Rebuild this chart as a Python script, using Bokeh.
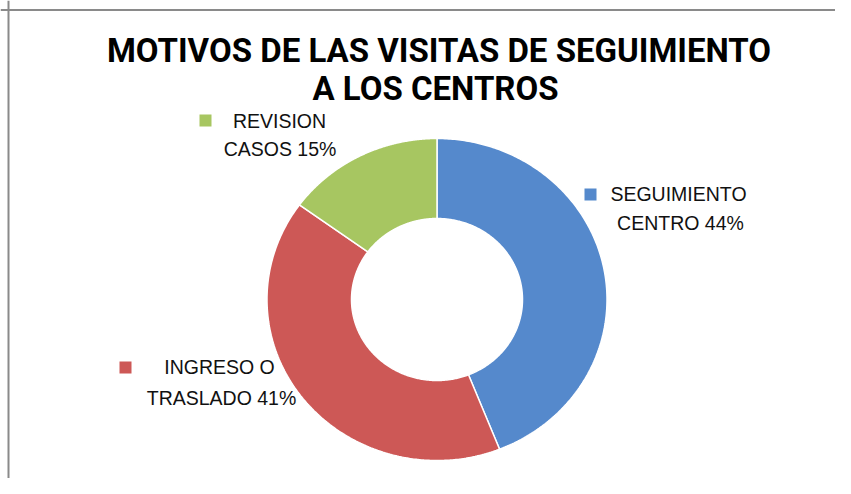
import numpy as np
from bokeh.plotting import figure
from bokeh.models import Range1d, Span, Label, ColumnDataSource
from bokeh.embed import file_html
from bokeh.resources import INLINE

# ---------------- data ----------------
title_lines = ["MOTIVOS DE LAS VISITAS DE SEGUIMIENTO", "A LOS CENTROS"]
categories = ["SEGUIMIENTO CENTRO", "INGRESO O TRASLADO", "REVISION CASOS"]
percentages = [44, 41, 15]
label_first = ["SEGUIMIENTO", "INGRESO O", "REVISION"]
label_second = ["CENTRO", "TRASLADO", "CASOS"]
colors = ["#5589CC", "#CD5856", "#A7C661"]

# ---------------- layout (screenshot pixel coordinates) ----------------
W, H = 835, 478
cx, cy = 436.5, 299.0
rx_out, ry_out = 170.0, 161.0
rx_in, ry_in = 85.5, 81.0
# label placement per slice: (x line1, y line1, x line2, y line2, key x, key y)
label_pos = [
    (678, 193, 680, 222, 590, 194),
    (219, 366, 221, 397, 125, 367),
    (279, 120, 279.5, 148, 205, 120),
]
LABEL_FONT = "'Liberation Sans', Arial, sans-serif"
TITLE_FONT = "Roboto, 'Liberation Sans', sans-serif"

p = figure(width=W, height=H, x_range=Range1d(0, W), y_range=Range1d(H, 0),
           output_backend="svg", toolbar_location=None, min_border=0)
p.axis.visible = False
p.grid.visible = False
p.outline_line_color = None
p.background_fill_color = "white"
p.border_fill_color = "white"

# donut slices (clockwise from 12 o'clock)
total = float(sum(percentages))
fracs = np.array(percentages) / total
ends = np.cumsum(fracs)
starts = ends - fracs
xs, ys = [], []
for s, e in zip(starts, ends):
    t = np.linspace(np.pi / 2 - 2 * np.pi * s, np.pi / 2 - 2 * np.pi * e, 240)
    ox = cx + rx_out * np.cos(t)
    oy = cy - ry_out * np.sin(t)
    ix = cx + rx_in * np.cos(t[::-1])
    iy = cy - ry_in * np.sin(t[::-1])
    xs.append(list(np.concatenate([ox, ix])))
    ys.append(list(np.concatenate([oy, iy])))

src = ColumnDataSource(dict(xs=xs, ys=ys, color=colors, cat=categories))
p.patches("xs", "ys", source=src, fill_color="color", line_color="white", line_width=1.5)

# legend keys
ksrc = ColumnDataSource(dict(x=[lp[4] for lp in label_pos], y=[lp[5] for lp in label_pos], color=colors))
p.rect("x", "y", width=12, height=12, source=ksrc, fill_color="color", line_color=None)

# data labels
for first, second, pct, lp in zip(label_first, label_second, percentages, label_pos):
    p.add_layout(Label(x=lp[0], y=lp[1], text=first, text_align="center",
                       text_baseline="alphabetic", text_font=LABEL_FONT,
                       text_font_size="19.5px", text_color="#111111"))
    p.add_layout(Label(x=lp[2], y=lp[3], text=f"{second} {pct}%", text_align="center",
                       text_baseline="alphabetic", text_font=LABEL_FONT,
                       text_font_size="19.5px", text_color="#111111"))

# title
p.add_layout(Label(x=438.5, y=50, text=title_lines[0], text_align="center",
                   text_baseline="alphabetic", text_font=TITLE_FONT,
                   text_font_size="33px", text_font_style="bold", text_color="#000000"))
p.add_layout(Label(x=435, y=88, text=title_lines[1], text_align="center",
                   text_baseline="alphabetic", text_font=TITLE_FONT,
                   text_font_size="33px", text_font_style="bold", text_color="#000000"))

# frame (top and left edges visible)
p.add_layout(Span(location=9.5, dimension="width", line_color="#8a8a8a", line_width=2))
p.add_layout(Span(location=8.0, dimension="height", line_color="#8a8a8a", line_width=2))

open("out.html", "w").write(file_html(p, INLINE))
